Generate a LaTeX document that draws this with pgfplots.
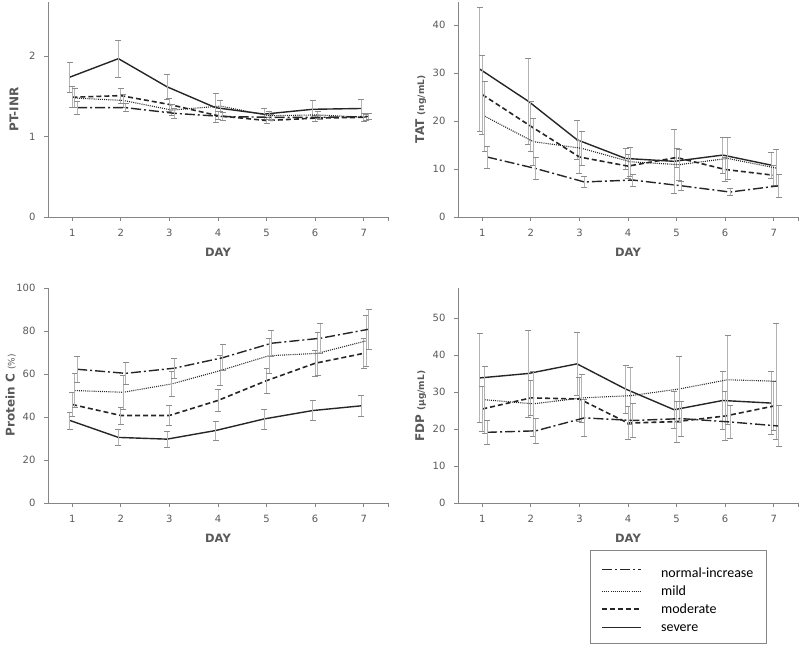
\documentclass[border=0pt]{standalone}
\usepackage{fontspec}
\setmainfont{DejaVu Sans}
\newfontfamily\legfont{Carlito}
\usepackage{pgfplots}
\usepackage{pgfplotstable}
\pgfplotsset{compat=1.18}
\definecolor{txt}{HTML}{595959}
\definecolor{axc}{HTML}{868686}
\definecolor{errc}{HTML}{B3B3B3}
\definecolor{capc}{HTML}{8C8C8C}
\definecolor{lnc}{HTML}{262626}

% day, severe, moderate, mild, normal-increase (mean and error)
\pgfplotstableread{
d sev sevE mod modE mil milE nor norE
1 1.74 0.19 1.49 0.13 1.48 0.12 1.36 0.08
2 1.97 0.23 1.51 0.09 1.45 0.08 1.36 0.05
3 1.62 0.16 1.40 0.08 1.33 0.07 1.29 0.06
4 1.36 0.18 1.26 0.05 1.38 0.07 1.25 0.05
5 1.28 0.07 1.20 0.04 1.26 0.05 1.24 0.04
6 1.34 0.11 1.23 0.04 1.27 0.04 1.24 0.03
7 1.35 0.11 1.24 0.05 1.24 0.04 1.25 0.04
}\inr
\pgfplotstableread{
d sev sevE mod modE mil milE nor norE
1 30.8 12.9 25.5 8.2 21.0 7.3 12.5 2.3
2 24.1 8.9 18.9 5.2 15.7 4.9 10.1 2.3
3 16.1 4.1 12.5 3.5 14.3 3.6 7.3 1.2
4 12.2 2.2 10.6 2.5 11.5 3.0 7.7 1.3
5 11.6 6.6 12.4 2.0 10.9 3.2 6.5 1.0
6 12.9 3.8 9.9 2.5 12.2 4.4 5.2 0.7
7 10.8 2.7 8.7 2.0 10.2 3.9 6.5 2.5
}\tat
\pgfplotstableread{
d sev sevE mod modE mil milE nor norE
1 38.4 4.0 45.8 5.5 52.3 8.0 62.2 6.0
2 30.5 3.8 40.7 4.0 51.5 8.0 60.3 5.0
3 29.7 3.8 40.7 4.6 55.4 6.0 62.7 4.8
4 33.7 4.4 47.7 5.0 61.6 7.0 67.6 6.0
5 39.1 4.6 56.9 5.8 68.5 8.0 74.3 6.0
6 43.0 4.6 65.0 6.0 69.6 10.0 76.6 7.0
7 45.2 5.0 69.6 6.8 75.4 12.0 80.8 9.4
}\protc
\pgfplotstableread{
d sev sevE mod modE mil milE nor norE
1 33.8 12.1 25.4 6.0 27.9 9.1 19.1 3.3
2 35.0 11.8 28.4 4.8 26.8 8.7 19.5 3.4
3 37.6 8.5 28.1 6.0 28.4 6.5 23.0 5.1
4 30.8 6.5 21.6 4.5 29.0 7.6 22.3 4.6
5 25.2 5.0 22.0 5.6 30.8 8.9 22.8 4.7
6 27.7 7.8 23.5 6.6 33.3 12.1 21.9 4.5
7 27.0 8.5 26.2 6.6 32.9 15.7 20.8 5.6
}\fdp

\tikzset{
  sevst/.style={lnc, line width=1.4pt, solid},
  modst/.style={lnc, line width=1.6pt, dash pattern=on 5pt off 3pt},
  milst/.style={lnc, line width=1.1pt, dash pattern=on 1pt off 1.1pt},
  norst/.style={lnc, line width=1.4pt, dash pattern=on 10pt off 3pt on 2pt off 3pt},
}

\pgfplotsset{
  panel/.style={
    scale only axis, width=340pt, height=215pt, anchor=south west,
    axis x line*=bottom, axis y line*=left,
    axis line style={axc, line width=0.8pt},
    xmin=0.5, xmax=7.5, ymin=0,
    xtick={1,...,7}, extra x ticks={7.5}, extra x tick labels={},
    tick align=outside, major tick length=4pt,
    tick style={axc, line width=0.8pt},
    ticklabel style={font=\fontsize{10}{12}\selectfont, text=txt},
    xticklabel style={yshift=-5pt},
    yticklabel style={xshift=-5pt},
    /pgf/number format/assume math mode=true,
    xlabel={DAY},
    xlabel style={font=\bfseries\fontsize{11.5}{13}\selectfont, text=txt,
      at={(axis description cs:0.5,-0.163)}, anchor=center},
    ylabel style={font=\bfseries\fontsize{12}{14}\selectfont, text=txt,
      at={(axis description cs:-0.1,0.5)}, anchor=center},
    clip=false,
    error bars/error bar style={errc, line width=0.9pt, solid},
    error bars/error mark options={capc, rotate=90, mark size=3pt, line width=0.6pt, solid},
  },
}
\newcommand{\allseries}[1]{%
  \addplot[sevst, mark=none, forget plot, error bars/.cd, y dir=both, y explicit]
    table[x expr=\thisrow{d}-0.05, y=sev, y error=sevE]{#1};
  \addplot[modst, mark=none, forget plot, error bars/.cd, y dir=both, y explicit]
    table[x expr=\thisrow{d}, y=mod, y error=modE]{#1};
  \addplot[milst, mark=none, forget plot, error bars/.cd, y dir=both, y explicit]
    table[x expr=\thisrow{d}+0.05, y=mil, y error=milE]{#1};
  \addplot[norst, mark=none, forget plot, error bars/.cd, y dir=both, y explicit]
    table[x expr=\thisrow{d}+0.1, y=nor, y error=norE]{#1};
}
\newcommand{\st}{\rule[-3pt]{0pt}{13pt}}

\begin{document}
\begin{tikzpicture}
\useasboundingbox (0pt,0pt) rectangle (800pt,655pt);

\begin{axis}[panel, at={(48pt,438pt)}, ymax=2.675, ytick={0,1,2},
  ylabel={PT-INR}]
\allseries{\inr}
\end{axis}

\begin{axis}[panel, at={(458pt,438pt)}, ymax=44.8, ytick={0,10,...,40},
  ylabel={TAT {\fontsize{9}{10}\selectfont (ng/mL)}},
  ylabel style={at={(axis description cs:-0.11,0.5)}}]
\allseries{\tat}
\end{axis}

\begin{axis}[panel, at={(48pt,152pt)}, ymax=100, ytick={0,20,...,100},
  ylabel={Protein C {\mdseries\fontsize{9}{10}\selectfont (\%)}},
  ylabel style={at={(axis description cs:-0.11,0.5)}}]
\allseries{\protc}
\end{axis}

\begin{axis}[panel, at={(458pt,152pt)}, ymax=58.1, ytick={0,10,...,50},
  ylabel={FDP {\fontsize{9}{10}\selectfont (µg/mL)}},
  ylabel style={at={(axis description cs:-0.11,0.45)}},
  legend style={at={(axis description cs:0.388,-0.219)}, anchor=north west,
    draw=axc, line width=0.8pt, fill=white, inner xsep=11pt, inner ysep=8pt,
    font=\legfont\fontsize{14}{16}\selectfont, row sep=2.5pt,
    nodes={inner sep=2pt, text=black}},
  legend cell align=left,
  legend image code/.code={\path[draw=none, fill=none] (0pt,-1pt) rectangle (57pt,1pt); \draw[#1] (0pt,0pt) -- (39pt,0pt);}]
\allseries{\fdp}
\addlegendimage{norst, line width=1.2pt}
\addlegendentry{\rule[-3pt]{0pt}{20pt}normal-increase\hspace{9pt}}
\addlegendimage{milst}
\addlegendentry{\st mild}
\addlegendimage{modst}
\addlegendentry{\st moderate}
\addlegendimage{sevst}
\addlegendentry{\st severe}
\end{axis}
\end{tikzpicture}
\end{document}
